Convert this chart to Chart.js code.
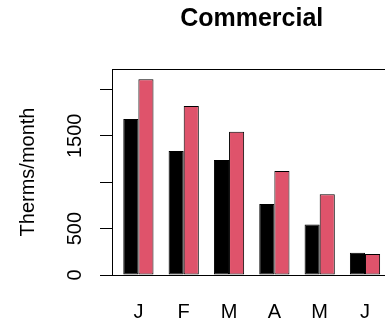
<!DOCTYPE html>
<html>
<head>
<meta charset="utf-8">
<script src="https://cdn.jsdelivr.net/npm/chart.js@4"></script>
<style>
  html, body { margin: 0; padding: 0; overflow: hidden; background: #fff; }
  canvas { display: block; }
</style>
</head>
<body>
<canvas id="myChart" width="400" height="325"></canvas>
<script>
const months = ['J', 'F', 'M', 'A', 'M', 'J'];
const series1 = [1680, 1335, 1240, 765, 545, 240];
const series2 = [2110, 1820, 1545, 1120, 870, 225];
const yTicks = [0, 500, 1000, 1500, 2000];
const yTickLabels = ['0', '500', '', '1500', ''];

// barplot-style layout: one unit of space before each pair of unit-wide bars
const groupCenter = i => 3 * i + 2;
const xSpan = [1, 3 * months.length];
const xPad = 0.04 * (xSpan[1] - xSpan[0]);

Chart.defaults.font.family = "'Liberation Sans', Arial, sans-serif";
Chart.defaults.color = '#000';

// plain frame round the plot region
const boxPlugin = {
    id: 'plotBox',
    afterDatasetsDraw(chart) {
        const { ctx, chartArea: a } = chart;
        ctx.save();
        ctx.strokeStyle = '#000';
        ctx.lineWidth = 1;
        ctx.strokeRect(a.left - 0.5, a.top + 0.5, a.right - a.left, a.bottom - a.top);
        ctx.restore();
    }
};

const toPoints = values => values.map((y, i) => ({ x: groupCenter(i), y }));

new Chart(document.getElementById('myChart'), {
    type: 'bar',
    data: {
        datasets: [{
            data: toPoints(series1),
            backgroundColor: '#000000',
            borderColor: '#000000',
            borderWidth: 1,
            borderSkipped: false
        }, {
            data: toPoints(series2),
            backgroundColor: '#DF536B',
            borderColor: '#000000',
            borderWidth: 1,
            borderSkipped: false
        }]
    },
    options: {
        responsive: false,
        animation: false,
        events: [],
        layout: { padding: { left: 0, right: 9.6, top: 0, bottom: 0 } },
        datasets: {
            bar: { categoryPercentage: 2 / 3, barPercentage: 1 }
        },
        plugins: {
            legend: { display: false },
            tooltip: { enabled: false },
            title: {
                display: true,
                text: 'Commercial',
                fullSize: false,
                font: { size: 25, weight: 'bold' },
                color: '#000',
                padding: { top: 4, bottom: 35 }
            }
        },
        scales: {
            x: {
                type: 'linear',
                offset: false,
                min: xSpan[0] - xPad,
                max: xSpan[1] + xPad,
                afterBuildTicks: axis => {
                    axis.ticks = months.map((m, i) => ({ value: groupCenter(i) }));
                },
                afterFit: axis => { axis.height = 50; },
                ticks: {
                    autoSkip: false,
                    maxRotation: 0,
                    font: { size: 20 },
                    padding: 25,
                    callback: (value, index) => months[index]
                },
                grid: { display: false, drawTicks: false, offset: false },
                border: { display: false }
            },
            y: {
                min: 0,
                max: 2220,
                afterBuildTicks: axis => {
                    axis.ticks = yTicks.map(v => ({ value: v }));
                },
                afterFit: axis => { axis.width = 113; },
                ticks: {
                    autoSkip: false,
                    minRotation: 90,
                    maxRotation: 90,
                    crossAlign: 'center',
                    padding: 2,
                    font: { size: 20 },
                    callback: (value, index) => yTickLabels[index]
                },
                grid: {
                    drawOnChartArea: false,
                    drawTicks: true,
                    tickLength: 13,
                    color: '#000',
                    lineWidth: 1
                },
                border: { display: false },
                title: {
                    display: true,
                    text: 'Therms/month',
                    font: { size: 20 },
                    color: '#000',
                    padding: { top: 16, bottom: 0 }
                }
            }
        }
    },
    plugins: [boxPlugin]
});
</script>
</body>
</html>
